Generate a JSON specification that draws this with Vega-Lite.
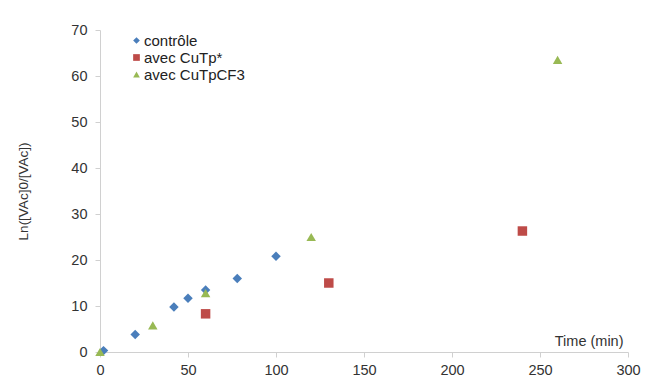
{
  "$schema": "https://vega.github.io/schema/vega-lite/v6.json",
  "width": 528,
  "height": 322,
  "autosize": "none",
  "padding": {"left": 100, "top": 30, "right": 24, "bottom": 33},
  "background": "white",
  "config": {
    "view": {"stroke": null},
    "font": "Liberation Sans",
    "axis": {"grid": false, "domainColor": "#d0d0d0", "tickColor": "#d0d0d0", "labelColor": "#333333", "titleColor": "#333333", "labelFontSize": 14.5, "titleFontWeight": "normal", "tickSize": 5}
  },
  "data": {
    "values": [
      {"time": 2, "ln": 0.3, "serie": "contrôle"},
      {"time": 20, "ln": 3.8, "serie": "contrôle"},
      {"time": 42, "ln": 9.8, "serie": "contrôle"},
      {"time": 50, "ln": 11.7, "serie": "contrôle"},
      {"time": 60, "ln": 13.5, "serie": "contrôle"},
      {"time": 78, "ln": 16, "serie": "contrôle"},
      {"time": 100, "ln": 20.8, "serie": "contrôle"},
      {"time": 60, "ln": 8.3, "serie": "avec CuTp*"},
      {"time": 130, "ln": 15, "serie": "avec CuTp*"},
      {"time": 240, "ln": 26.3, "serie": "avec CuTp*"},
      {"time": 0, "ln": 0, "serie": "avec CuTpCF3"},
      {"time": 30, "ln": 5.8, "serie": "avec CuTpCF3"},
      {"time": 60, "ln": 12.8, "serie": "avec CuTpCF3"},
      {"time": 120, "ln": 25, "serie": "avec CuTpCF3"},
      {"time": 260, "ln": 63.5, "serie": "avec CuTpCF3"}
    ]
  },
  "mark": {"type": "point", "filled": true, "opacity": 1, "size": 90},
  "encoding": {
    "x": {"field": "time", "type": "quantitative", "scale": {"domain": [0, 300], "nice": false}, "axis": {"values": [0, 50, 100, 150, 200, 250, 300], "title": "Time (min)", "titleX": 523, "titleY": -7, "titleAlign": "right", "titleBaseline": "alphabetic", "titleFontSize": 14.5, "labelFlush": false, "labelPadding": 6}},
    "y": {"field": "ln", "type": "quantitative", "scale": {"domain": [0, 70], "nice": false}, "axis": {"values": [0, 10, 20, 30, 40, 50, 60, 70], "title": "Ln([VAc]0/[VAc])", "titleX": -70, "titleFontSize": 13.5, "labelFlush": false, "labelPadding": 8}},
    "color": {"field": "serie", "type": "nominal", "scale": {"domain": ["contrôle", "avec CuTp*", "avec CuTpCF3"], "range": ["#4A7EBB", "#BE4B48", "#98B954"]}, "legend": {"title": null, "orient": "none", "legendX": 29, "legendY": 3, "labelFontSize": 15, "labelColor": "#222222", "symbolSize": 45, "labelOffset": 0, "rowPadding": 1, "symbolOpacity": 1}},
    "shape": {"field": "serie", "type": "nominal", "scale": {"domain": ["contrôle", "avec CuTp*", "avec CuTpCF3"], "range": ["diamond", "square", "triangle-up"]}}
  }
}
